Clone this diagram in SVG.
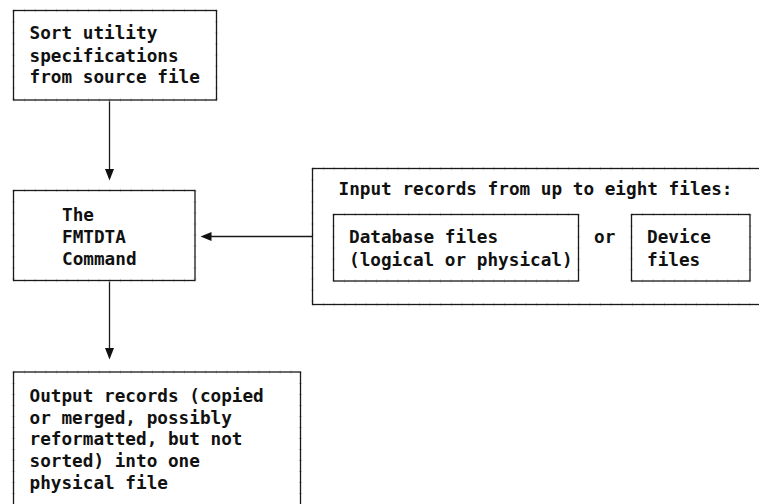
<svg xmlns="http://www.w3.org/2000/svg" width="759" height="504" viewBox="0 0 759 504">
  <style>
    .box { fill: none; stroke: #1a1a1a; stroke-width: 1.3; }
    .tick { fill: none; stroke: #d4d4d4; stroke-width: 3.5; }
    .tick-h { stroke-dasharray: 1 9.65; }
    .tick-v { stroke-dasharray: 1 10; }
    .label { font-family: "DejaVu Sans Mono", "Liberation Mono", monospace; font-weight: bold; font-size: 17.7px; fill: #111; }
    .wire { fill: none; stroke: #1a1a1a; stroke-width: 1.3; }
    .head { fill: #111; }
  </style>
  <rect width="759" height="504" fill="#fff"/>

  <g id="connectors">
    <!-- spec file to command -->
    <line class="wire" x1="109.5" y1="100" x2="109.5" y2="170"/>
    <polygon class="head" points="105,169 114,169 109.5,180.5"/>
    <!-- command to output -->
    <line class="wire" x1="109.5" y1="280.5" x2="109.5" y2="349"/>
    <polygon class="head" points="105,348 114,348 109.5,359.5"/>
    <!-- input records to command -->
    <line class="wire" x1="312.5" y1="236.5" x2="210" y2="236.5"/>
    <polygon class="head" points="211.5,232 211.5,241 200.5,236.5"/>
  </g>

  <g id="spec-source">
    <path class="tick tick-h" d="M13.5,10.5 H216.5 M13.5,100 H216.5"/>
    <path class="tick tick-v" d="M13.5,10.5 V100 M216.5,10.5 V100"/>
    <rect class="box" x="13.5" y="10.5" width="203" height="89.5"/>
    <text class="label" x="29.5" y="39.3">Sort utility</text>
    <text class="label" x="29.5" y="61.5">specifications</text>
    <text class="label" x="29.5" y="83.3">from source file</text>
  </g>

  <g id="fmtdta">
    <path class="tick tick-h" d="M13.5,190.5 H195 M13.5,280.5 H195"/>
    <path class="tick tick-v" d="M13.5,190.5 V280.5 M195,190.5 V280.5"/>
    <rect class="box" x="13.5" y="190.5" width="181.5" height="90"/>
    <text class="label" x="62" y="220.7">The</text>
    <text class="label" x="62" y="242.7">FMTDTA</text>
    <text class="label" x="62" y="264.5">Command</text>
  </g>

  <g id="input-records">
    <path class="tick tick-h" d="M312.5,168.5 H770 M312.5,304.5 H770"/>
    <path class="tick tick-v" d="M312.5,168.5 V304.5"/>
    <rect class="box" x="312.5" y="168.5" width="460" height="136"/>
    <text class="label" x="338.5" y="195">Input records from up to eight files:</text>
    <text class="label" x="594" y="243.3">or</text>
  </g>

  <g id="database-files">
    <path class="tick tick-h" d="M333.5,214.5 H578.5 M333.5,281 H578.5"/>
    <path class="tick tick-v" d="M333.5,214.5 V281 M578.5,214.5 V281"/>
    <rect class="box" x="333.5" y="214.5" width="245" height="66.5"/>
    <text class="label" x="349" y="243.3">Database files</text>
    <text class="label" x="349" y="265.5">(logical or physical)</text>
  </g>

  <g id="device-files">
    <path class="tick tick-h" d="M631.5,214.5 H750 M631.5,281 H750"/>
    <path class="tick tick-v" d="M631.5,214.5 V281 M750,214.5 V281"/>
    <rect class="box" x="631.5" y="214.5" width="118.5" height="66.5"/>
    <text class="label" x="647" y="243.3">Device</text>
    <text class="label" x="647" y="265.5">files</text>
  </g>

  <g id="output-records">
    <path class="tick tick-h" d="M13.5,372 H300.5"/>
    <path class="tick tick-v" d="M13.5,372 V520 M300.5,372 V520"/>
    <rect class="box" x="13.5" y="372" width="287" height="150"/>
    <text class="label" x="29.5" y="401.7">Output records (copied</text>
    <text class="label" x="29.5" y="423.5">or merged, possibly</text>
    <text class="label" x="29.5" y="445.3">reformatted, but not</text>
    <text class="label" x="29.5" y="467.2">sorted) into one</text>
    <text class="label" x="29.5" y="489">physical file</text>
  </g>
</svg>
